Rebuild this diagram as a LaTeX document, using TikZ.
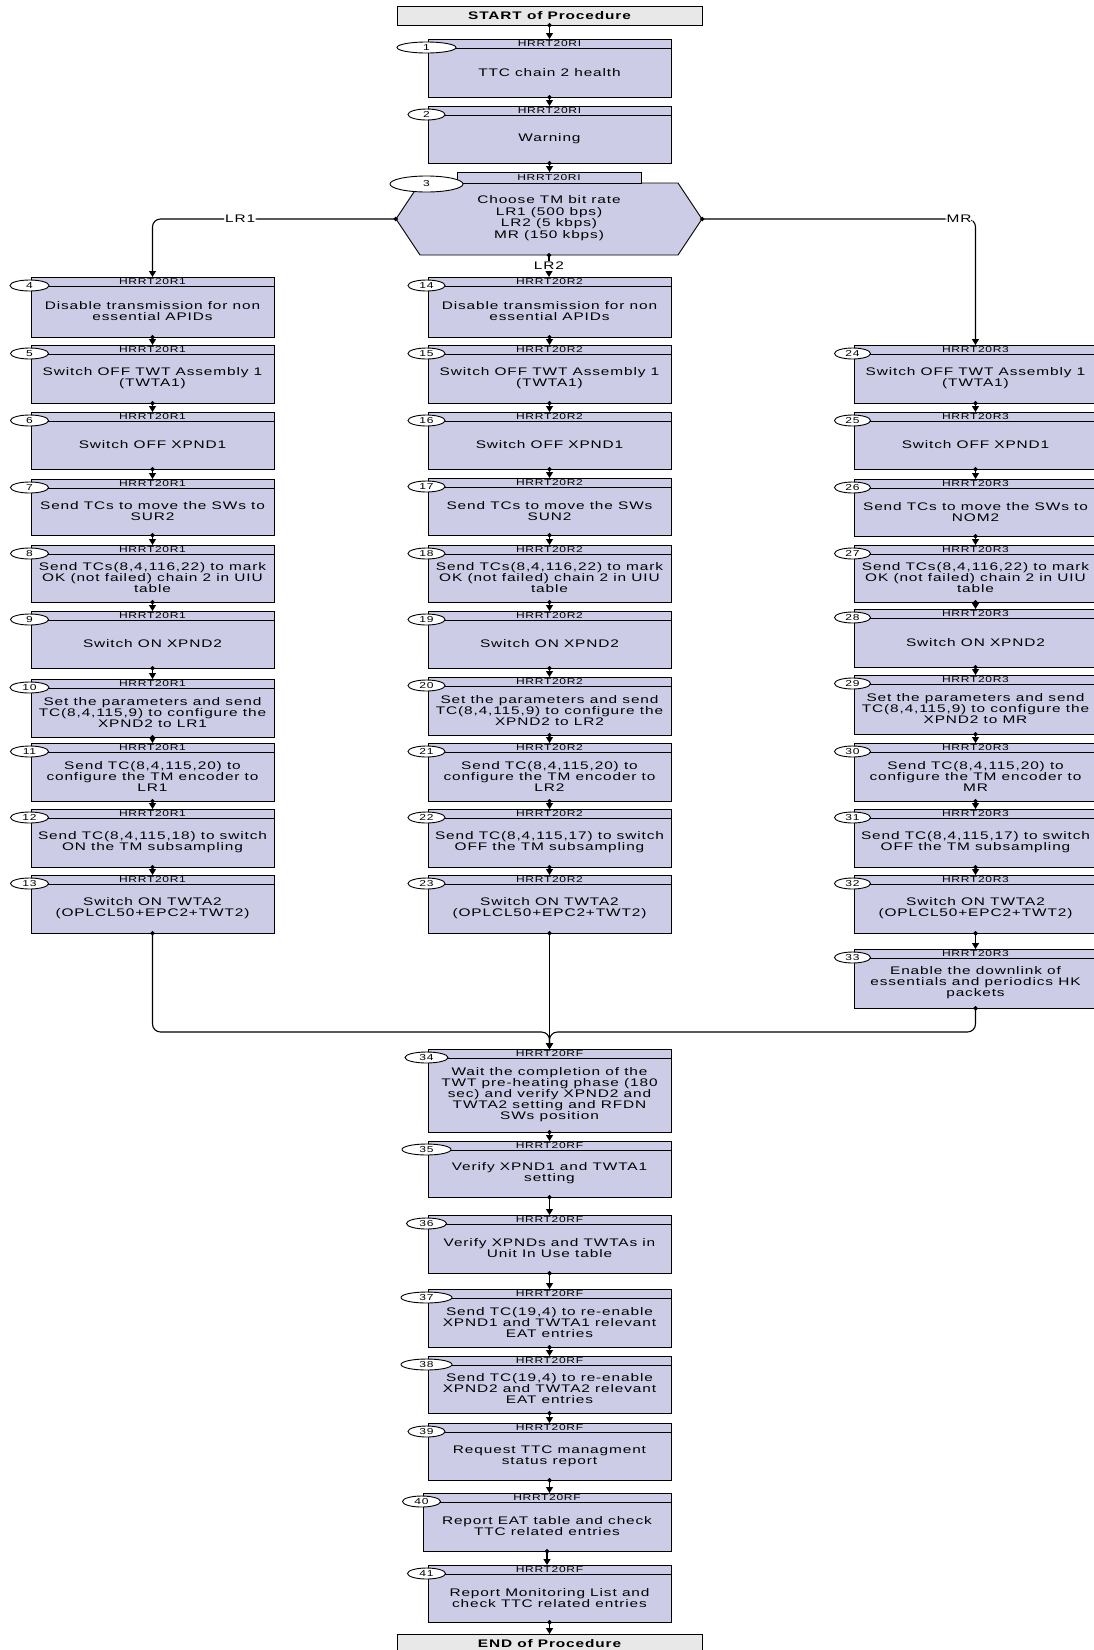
\documentclass[tikz,border=0pt]{standalone}
\usepackage{fontspec}
\usetikzlibrary{arrows.meta,calc,shapes.geometric}
\newfontfamily\dfont[FakeStretch=1.4,LetterSpace=8]{Liberation Sans}
\definecolor{boxfill}{RGB}{204,204,230}
\definecolor{termfill}{RGB}{232,232,232}
\tikzset{
 pboxst/.style={draw, fill=boxfill, line width=0.9pt, inner sep=0pt, outer sep=0pt},
 hdr/.style={inner sep=0pt, font=\dfont\fontsize{8.6}{9}\selectfont},
 body/.style={inner sep=0pt, align=center, font=\dfont\fontsize{11}{11}\selectfont},
 ovalst/.style={ellipse, draw, fill=white, line width=0.9pt, inner sep=0pt, minimum height=11, minimum width=38, font=\dfont\fontsize{8.6}{8.6}\selectfont},
 conn/.style={line width=1.1pt, {Circle[length=4.5pt]}-{Triangle[length=6pt,width=7pt]}, shorten <=-2pt},
 lbl/.style={fill=white, inner sep=1pt, font=\dfont\fontsize{11}{11}\selectfont},
 term/.style={draw, fill=termfill, line width=0.9pt, inner sep=0pt, outer sep=0pt, font=\dfont\bfseries\fontsize{11}{12}\selectfont},
}
% #1 name, #2 left, #3 right, #4 top, #5 bottom, #6 header, #7 number, #8 oval width, #9 text
\newcommand\mkbox[9]{%
  \node[pboxst, minimum width={#3-#2}, minimum height={#5-#4}, anchor=north west] (#1) at (#2,#4) {};
  \draw[line width=0.9pt] ($(#1.north west)+(0,9)$) -- ($(#1.north east)+(0,9)$);
  \node[hdr] at ($(#1.north)+(0,4.6)$) {#6};
  \node[body] at ($(#1.north)+(0,{(#5-#4+9)/2})$) {#9};
  \node[ovalst, minimum width=#8] (o#1) at ($(#1.north west)+(-1.5,8.5)$) {#7};
}
\newcommand\cn[2]{\draw[conn] (#1.south) -- (#1.south |- #2.north);}
\begin{document}
\begin{tikzpicture}[x=1pt,y=-1pt]
\fill[white] (0,0) rectangle (1093,1650);
\useasboundingbox (0,0) rectangle (1093,1650);

\node[term, minimum width=305, minimum height=19, anchor=north west] (start) at (397,6) {START of Procedure};

\mkbox{b1}{428}{671}{39}{97}{HRRT20RI}{1}{59}{TTC chain 2 health}
\mkbox{b2}{428}{671}{106}{163}{HRRT20RI}{2}{37}{Warning}

% decision 3
\node[minimum width=306, minimum height=72, inner sep=0pt, outer sep=0pt] (n3) at (549,219) {};
\draw[pboxst] (n3.west) -- ($(n3.north west)+(24,0)$) -- ($(n3.north east)+(-24,0)$) -- (n3.east)
  -- ($(n3.south east)+(-24,0)$) -- ($(n3.south west)+(24,0)$) -- cycle;
\node[pboxst, hdr, minimum width=184, minimum height=11, anchor=north west] (h3) at (457,172) {HRRT20RI};
\node[body, font=\dfont\fontsize{11}{11.5}\selectfont] at (549,218) {Choose TM bit rate\\LR1 (500 bps)\\LR2 (5 kbps)\\MR (150 kbps)};
\node[ovalst, minimum width=73, minimum height=16] (o3) at (426.5,184) {3};

% left column
\mkbox{b4}{31}{274}{277}{337}{HRRT20R1}{4}{39}{Disable transmission for non\\essential APIDs}
\mkbox{b5}{31}{274}{345}{403}{HRRT20R1}{5}{38}{Switch OFF TWT Assembly 1\\(TWTA1)}
\mkbox{b6}{31}{274}{412}{469}{HRRT20R1}{6}{38}{Switch OFF XPND1}
\mkbox{b7}{31}{274}{479}{535}{HRRT20R1}{7}{38}{Send TCs to move the SWs to\\SUR2}
\mkbox{b8}{31}{274}{545}{602}{HRRT20R1}{8}{38}{Send TCs(8,4,116,22) to mark\\OK (not failed) chain 2 in UIU\\table}
\mkbox{b9}{31}{274}{611}{668}{HRRT20R1}{9}{38}{Switch ON XPND2}
\mkbox{b10}{31}{274}{679}{737}{HRRT20R1}{10}{39}{Set the parameters and send\\TC(8,4,115,9) to configure the\\XPND2 to LR1}
\mkbox{b11}{31}{274}{743}{801}{HRRT20R1}{11}{38}{Send TC(8,4,115,20) to\\configure the TM encoder to\\LR1}
\mkbox{b12}{31}{274}{809}{867}{HRRT20R1}{12}{38}{Send TC(8,4,115,18) to switch\\ON the TM subsampling}
\mkbox{b13}{31}{274}{875}{933}{HRRT20R1}{13}{38}{Switch ON TWTA2\\(OPLCL50+EPC2+TWT2)}

% middle column
\mkbox{b14}{428}{671}{277}{337}{HRRT20R2}{14}{37}{Disable transmission for non\\essential APIDs}
\mkbox{b15}{428}{671}{345}{403}{HRRT20R2}{15}{37}{Switch OFF TWT Assembly 1\\(TWTA1)}
\mkbox{b16}{428}{671}{412}{469}{HRRT20R2}{16}{37}{Switch OFF XPND1}
\mkbox{b17}{428}{671}{478}{535}{HRRT20R2}{17}{37}{Send TCs to move the SWs\\SUN2}
\mkbox{b18}{428}{671}{545}{602}{HRRT20R2}{18}{37}{Send TCs(8,4,116,22) to mark\\OK (not failed) chain 2 in UIU\\table}
\mkbox{b19}{428}{671}{611}{668}{HRRT20R2}{19}{37}{Switch ON XPND2}
\mkbox{b20}{428}{671}{677}{735}{HRRT20R2}{20}{37}{Set the parameters and send\\TC(8,4,115,9) to configure the\\XPND2 to LR2}
\mkbox{b21}{428}{671}{743}{801}{HRRT20R2}{21}{37}{Send TC(8,4,115,20) to\\configure the TM encoder to\\LR2}
\mkbox{b22}{428}{671}{809}{867}{HRRT20R2}{22}{37}{Send TC(8,4,115,17) to switch\\OFF the TM subsampling}
\mkbox{b23}{428}{671}{875}{933}{HRRT20R2}{23}{37}{Switch ON TWTA2\\(OPLCL50+EPC2+TWT2)}

% right column
\mkbox{b24}{854}{1097}{345}{403}{HRRT20R3}{24}{36}{Switch OFF TWT Assembly 1\\(TWTA1)}
\mkbox{b25}{854}{1097}{412}{469}{HRRT20R3}{25}{36}{Switch OFF XPND1}
\mkbox{b26}{854}{1097}{479}{536}{HRRT20R3}{26}{36}{Send TCs to move the SWs to\\NOM2}
\mkbox{b27}{854}{1097}{545}{602}{HRRT20R3}{27}{36}{Send TCs(8,4,116,22) to mark\\OK (not failed) chain 2 in UIU\\table}
\mkbox{b28}{854}{1097}{609}{667}{HRRT20R3}{28}{36}{Switch ON XPND2}
\mkbox{b29}{854}{1097}{675}{734}{HRRT20R3}{29}{36}{Set the parameters and send\\TC(8,4,115,9) to configure the\\XPND2 to MR}
\mkbox{b30}{854}{1097}{743}{801}{HRRT20R3}{30}{36}{Send TC(8,4,115,20) to\\configure the TM encoder to\\MR}
\mkbox{b31}{854}{1097}{809}{867}{HRRT20R3}{31}{36}{Send TC(8,4,115,17) to switch\\OFF the TM subsampling}
\mkbox{b32}{854}{1097}{875}{933}{HRRT20R3}{32}{36}{Switch ON TWTA2\\(OPLCL50+EPC2+TWT2)}
\mkbox{b33}{854}{1097}{949}{1008}{HRRT20R3}{33}{36}{Enable the downlink of\\essentials and periodics HK\\packets}

% final column
\mkbox{b34}{428}{671}{1049}{1132}{HRRT20RF}{34}{43}{Wait the completion of the\\TWT pre-heating phase (180\\sec) and verify XPND2 and\\TWTA2 setting and RFDN\\SWs position}
\mkbox{b35}{428}{671}{1141}{1197}{HRRT20RF}{35}{49}{Verify XPND1 and TWTA1\\setting}
\mkbox{b36}{428}{671}{1215}{1273}{HRRT20RF}{36}{40}{Verify XPNDs and TWTAs in\\Unit In Use table}
\mkbox{b37}{428}{671}{1289}{1347}{HRRT20RF}{37}{51}{Send TC(19,4) to re-enable\\XPND1 and TWTA1 relevant\\EAT entries}
\mkbox{b38}{428}{671}{1356}{1413}{HRRT20RF}{38}{51}{Send TC(19,4) to re-enable\\XPND2 and TWTA2 relevant\\EAT entries}
\mkbox{b39}{428}{671}{1423}{1480}{HRRT20RF}{39}{37}{Request TTC managment\\status report}
\mkbox{b40}{423}{671}{1493}{1551}{HRRT20RF}{40}{38}{Report EAT table and check\\TTC related entries}
\mkbox{b41}{428}{671}{1565}{1622}{HRRT20RF}{41}{38}{Report Monitoring List and\\check TTC related entries}

\node[term, minimum width=305, minimum height=19, anchor=north west] (end) at (397,1634) {END of Procedure};

% connectors
\cn{start}{b1}
\cn{b1}{b2}
\cn{b2}{h3}
\draw[conn, rounded corners=8pt] (n3.west) -| node[lbl, pos=0.32] {LR1} (b4.north);
\draw[conn, rounded corners=8pt] (n3.east) -| node[lbl, pos=0.47] {MR} (b24.north);
\draw[conn] (n3.south) -- node[lbl] {LR2} (n3.south |- b14.north);
\cn{b4}{b5}\cn{b5}{b6}\cn{b6}{b7}\cn{b7}{b8}\cn{b8}{b9}\cn{b9}{b10}\cn{b10}{b11}\cn{b11}{b12}\cn{b12}{b13}
\cn{b14}{b15}\cn{b15}{b16}\cn{b16}{b17}\cn{b17}{b18}\cn{b18}{b19}\cn{b19}{b20}\cn{b20}{b21}\cn{b21}{b22}\cn{b22}{b23}
\cn{b24}{b25}\cn{b25}{b26}\cn{b26}{b27}\cn{b27}{b28}\cn{b28}{b29}\cn{b29}{b30}\cn{b30}{b31}\cn{b31}{b32}\cn{b32}{b33}
\coordinate (mj) at (549.5,1032);
\draw[conn, rounded corners=8pt] (b13.south) |- (mj) -- (b34.north);
\draw[conn, rounded corners=8pt] (b33.south) |- (mj) -- (b34.north);
\draw[conn] (b23.south) -- (b34.north);
\cn{b34}{b35}\cn{b35}{b36}\cn{b36}{b37}\cn{b37}{b38}\cn{b38}{b39}\cn{b39}{b40}\cn{b40}{b41}\cn{b41}{end}
\end{tikzpicture}
\end{document}
